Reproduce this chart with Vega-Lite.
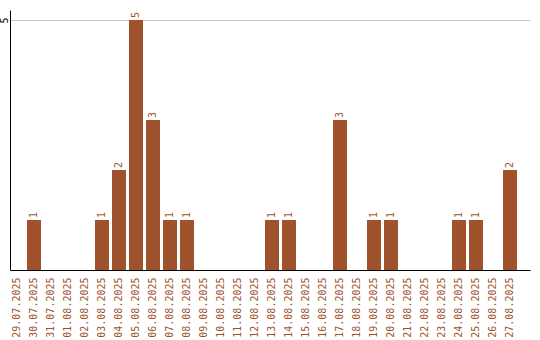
{
  "$schema": "https://vega.github.io/schema/vega-lite/v6.json",
  "width": 520,
  "height": 260,
  "autosize": {"type": "none"},
  "padding": {"left": 10, "top": 10, "right": 10, "bottom": 70},
  "background": "white",
  "config": {"view": {"stroke": null}, "font": "DejaVu Sans Mono"},
  "data": {"values": [
    {"date": "29.07.2025", "count": 0},
    {"date": "30.07.2025", "count": 1},
    {"date": "31.07.2025", "count": 0},
    {"date": "01.08.2025", "count": 0},
    {"date": "02.08.2025", "count": 0},
    {"date": "03.08.2025", "count": 1},
    {"date": "04.08.2025", "count": 2},
    {"date": "05.08.2025", "count": 5},
    {"date": "06.08.2025", "count": 3},
    {"date": "07.08.2025", "count": 1},
    {"date": "08.08.2025", "count": 1},
    {"date": "09.08.2025", "count": 0},
    {"date": "10.08.2025", "count": 0},
    {"date": "11.08.2025", "count": 0},
    {"date": "12.08.2025", "count": 0},
    {"date": "13.08.2025", "count": 1},
    {"date": "14.08.2025", "count": 1},
    {"date": "15.08.2025", "count": 0},
    {"date": "16.08.2025", "count": 0},
    {"date": "17.08.2025", "count": 3},
    {"date": "18.08.2025", "count": 0},
    {"date": "19.08.2025", "count": 1},
    {"date": "20.08.2025", "count": 1},
    {"date": "21.08.2025", "count": 0},
    {"date": "22.08.2025", "count": 0},
    {"date": "23.08.2025", "count": 0},
    {"date": "24.08.2025", "count": 1},
    {"date": "25.08.2025", "count": 1},
    {"date": "26.08.2025", "count": 0},
    {"date": "27.08.2025", "count": 2}
  ]},
  "encoding": {
    "x": {
      "field": "date", "type": "nominal", "sort": null,
      "scale": {"paddingInner": 0.1765, "paddingOuter": 0.382, "align": 0},
      "axis": {
        "title": null, "labelAngle": -90, "labelAlign": "right", "labelBaseline": "middle",
        "labelColor": "#A0522D", "labelFont": "DejaVu Sans Mono", "labelFontSize": 10,
        "labelPadding": 7, "ticks": false, "domainColor": "black", "domainWidth": 1,
        "grid": false, "labelOverlap": false
      }
    },
    "y": {
      "field": "count", "type": "quantitative",
      "scale": {"domain": [0, 5.2], "nice": false, "zero": true},
      "axis": {
        "title": null, "values": [5], "ticks": false, "grid": true, "gridColor": "#c8c8c8",
        "gridOpacity": 1, "domainColor": "black", "domainWidth": 1,
        "labelAngle": -90, "labelAlign": "center", "labelBaseline": "middle",
        "labelColor": "black", "labelFont": "DejaVu Sans Mono", "labelFontSize": 10,
        "labelPadding": 6
      }
    }
  },
  "layer": [
    {"mark": {"type": "bar", "color": "#A0522D"}},
    {
      "transform": [{"filter": "datum.count > 0"}],
      "mark": {"type": "text", "angle": -90, "align": "left", "baseline": "middle", "dx": 2,
               "color": "#A0522D", "font": "DejaVu Sans Mono", "fontSize": 10},
      "encoding": {"text": {"field": "count", "type": "quantitative"}}
    }
  ]
}
